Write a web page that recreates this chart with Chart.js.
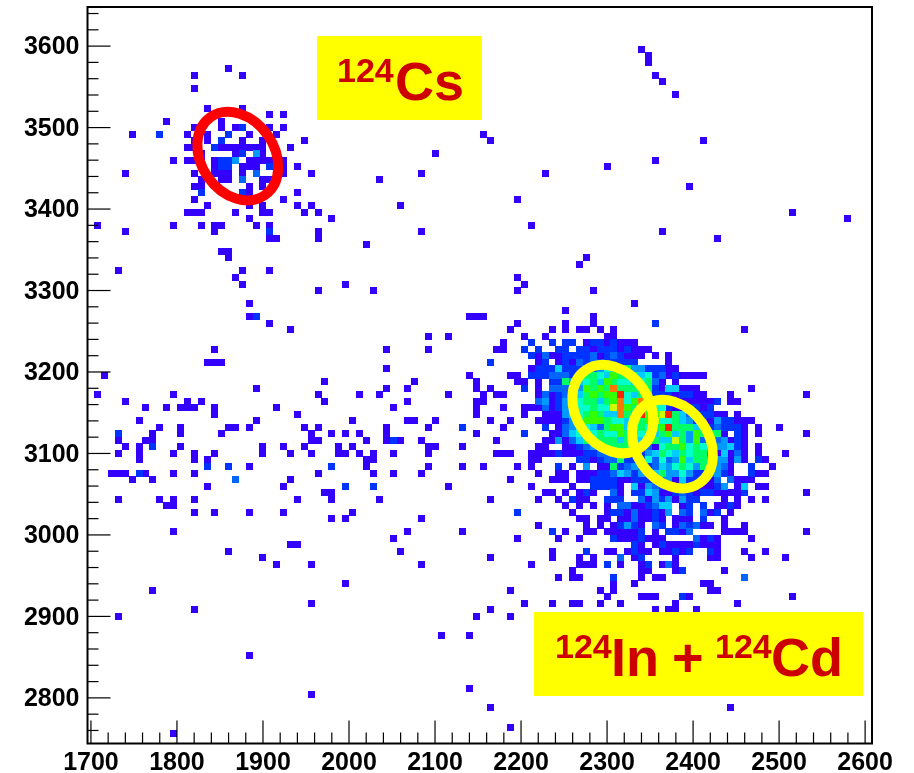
<!DOCTYPE html>
<html>
<head>
<meta charset="utf-8">
<title>124Cs, 124In + 124Cd</title>
<style>
  html, body { margin: 0; padding: 0; background: #fff; }
  #wrap { width: 914px; height: 773px; }
</style>
<script src="https://cdn.jsdelivr.net/npm/chart.js@4"></script>
</head>
<body>
<div id="wrap"><canvas id="plot"></canvas></div>
<script>
// Histogram bins are 8 x 8 wide, values are bin centres
const xMin = 1696, xMax = 2608, yMin = 2744, yMax = 3648;
const tickStep = 20, majorStep = 100;
const font = '"Liberation Sans", Arial, sans-serif';

// colour for each bin count
const levelColors = ['', '#3300ff', '#0033ff', '#0066ff', '#0099ff', '#00ccff', '#00ffcc',
                     '#00ff66', '#33ff00', '#ccff00', '#ff7700', '#ff2200'];

// Bins with one count, outside the dense cluster: one y, with its list of x
const sparseY = [3596, 3588, 3580, 3572, 3564, 3556, 3548, 3540, 3524, 3516, 3508, 3500, 3492, 3484, 3476, 3468,
  3460, 3452, 3444, 3436, 3428, 3420, 3412, 3404, 3396, 3388, 3380, 3372, 3364, 3356, 3348, 3340, 3332, 3324,
  3316, 3308, 3300, 3284, 3276, 3268, 3260, 3252, 3244, 3236, 3228, 3212, 3204, 3196, 3188, 3180, 3172, 3164,
  3156, 3148, 3140, 3132, 3124, 3116, 3108, 3100, 3092, 3084, 3076, 3068, 3060, 3052, 3044, 3036, 3028, 3020,
  3004, 2996, 2988, 2980, 2972, 2964, 2940, 2932, 2916, 2908, 2900, 2876, 2852, 2812, 2804, 2788, 2764, 2756];
const sparseX = [[2340], [2348], [2348], [1860], [1820, 1876, 2356], [2364], [1820], [2380], [1836, 1876], [1908, 1924],
  [1788, 1852], [1820, 1852, 1868, 1908, 1924], [1748, 1812, 1836, 1884, 1916, 2156],
  [1820, 1836, 1876, 1900, 1948, 2164, 2412], [1812, 1820, 1852, 1860, 1868, 1876, 1884, 1892, 1900, 1932],
  [1828, 1868, 1900, 2100], [1796, 1812, 1820, 1828, 1844, 1884, 1892, 1900, 1908, 1916, 1924, 2356],
  [1844, 1876, 1884, 1892, 1916, 1924, 1940, 2300], [1740, 1820, 1844, 1852, 1860, 1876, 1916, 1924, 1956, 2084, 2228],
  [1828, 1852, 1860, 1900, 1908, 2036], [1820, 1828, 1884, 1900, 2396], [1884, 1940], [1820, 1924, 2196],
  [1836, 1884, 1900, 1940, 1956, 2060], [1812, 1820, 1828, 1868, 1900, 1908, 1948, 1964, 2516], [1884, 1980, 2580],
  [1708, 1796, 1828, 1844, 1852, 1892, 1908, 2212], [1740, 1844, 1964, 2084, 2364], [1908, 1916, 1964, 2428], [2020],
  [1852, 1860], [1860, 2276], [2268], [1732, 1876, 1908], [1868, 2196], [1876, 1996, 2204], [1964, 2028, 2196, 2284],
  [1884, 2332], [2252], [1884, 2140, 2148, 2156, 2284], [1908, 2196, 2252, 2284],
  [1932, 2188, 2236, 2252, 2268, 2276, 2292, 2308, 2460], [2092, 2116], [2180], [1844, 2044, 2092, 2172, 2180],
  [1836, 1844, 1852], [2044], [1716, 2140], [1972, 2076, 2148], [1892, 2044, 2068, 2148, 2164],
  [1708, 1796, 1964, 2012, 2036, 2116, 2156, 2172, 2180], [1740, 1812, 1828, 1972, 2068, 2148, 2156],
  [1764, 1788, 1804, 1812, 1820, 1844, 1916, 2052, 2148, 2180], [1844, 1940, 2148],
  [1756, 1892, 2004, 2068, 2076, 2100, 2164], [1780, 1804, 1860, 1868, 1884, 1948, 1964, 2044, 2092, 2180],
  [1772, 1804, 1852, 1956, 1980, 1996, 2012, 2044, 2148],
  [1732, 1764, 1772, 1956, 1964, 2020, 2044, 2060, 2084, 2172],
  [1740, 1756, 1804, 1900, 1924, 1948, 1988, 2004, 2092, 2100, 2132],
  [1732, 1756, 1796, 1820, 1844, 1900, 1932, 1956, 1988, 1996, 2012, 2028, 2052, 2092, 2172, 2180],
  [1756, 1820, 1836, 2020, 2028], [1884, 2020, 2092, 2132, 2156],
  [1724, 1732, 1740, 1764, 1796, 1820, 1964, 2028, 2052, 2084], [1748, 1772, 1932], [1836, 1924, 2116], [1972, 1980],
  [1732, 1780, 1796, 1820, 1940, 1980, 2036, 2164], [1788, 1796], [1820, 1844, 1884, 1924, 2004], [1980, 1996, 2084],
  [1796, 2068, 2132], [2052], [1932, 1940], [1860, 2060], [1900, 2164], [1916, 1956, 2084], [1996], [1772], [1956],
  [1820, 2164], [1732, 2148], [2108, 2140], [1884], [2140], [1956], [2164, 2444], [2188], [1796]];

// The few sparse bins with more than one count
const twoCountX = [1876, 1780, 1860, 1852, 1844, 1876, 1852, 1860, 1852, 1860, 1908, 1828, 1876, 1908, 1892, 2356, 2164,
  2132, 1732, 2052, 1772, 1836, 1860, 1980, 1756, 1996, 2028];
const twoCountY = [3500, 3492, 3492, 3484, 3476, 3468, 3460, 3460, 3452, 3452, 3452, 3420, 3420, 3372, 3268, 3260, 3212,
  3132, 3124, 3116, 3108, 3084, 3084, 3084, 3076, 3060, 3060];
const threeCountX = [1892, 1876, 1868];
const threeCountY = [3444, 3436, 3068];
const fourCountX = [1892, 1868];
const fourCountY = [3468, 3460];

// Dense cluster, one string per row of bins, hex digit = count, '.' = empty
const clusterFirstX = 2188, clusterFirstY = 3244, binSize = 8;
const clusterRows = [
  '..1..1........11',
  '...2..2.22.12212111',
  '..2.2..22.22122212111',
  '...21311222231232111.1.1',
  '....12.121323222222....1',
  '...1222522233465674422211',
  '11.22233324776587775623121111',
  '.11.1.22745675876656731.1',
  '..2.1.333348787a777572155111.......1',
  '....131234578788b657722212211...1..........1',
  '....341245677578a68a73222111112.11',
  '..11131245667669a8787662122212',
  '..1..11145678755a75b889b75312211.1',
  '1...11112468887665678966754221422111',
  '.....2.1345653788567678b77755232221.1..1',
  '..2...11356767668766757857487771.21.1......1',
  '.....114135767775765675597483534121',
  '....11..112346777777316778676444521.1',
  '1..11112111223346752457657677315131.1...1',
  '...11.....2212337223636348577444141.21',
  '.1.1...2.1.4.11723432354676474431..2..1',
  '....1..11.11122354242574464223421..211',
  '1.....111.112222112222341522113.3111',
  '...1.....1..22221.51432224211124.15.11',
  '.....11.1.121..31.22541123212211112........1',
  '....1..1.211..222..314241422...1.1.1.1',
  '........1.1.1.1.33112355.12.2.1121',
  '.2.......1....1221311214.32.312.1',
  '..........11.11.1131121.111.2..1',
  '....1......1.1.12421.32.132311.1..1',
  '......2.1..11.111112.1.2213....1111........1',
  '.1.....1..1....21112111....3121....1',
  '..................21.1211112111',
  '......1....2..11.1211.11212..21...1..1',
  '......1...1.1...3.12....1....11....1....1',
  '...1......111.2.1..12.131',
  '.........1.........11...12.....1',
  '.......1.11....2...1.11...........3',
  '...............1..1.........11',
  '1............1.1.............11',
  '..............1....111...21..............1',
  '..1...1..11..1..1.......1........1',
  '.....................1.11..1',
  '1'
];

// Gates drawn over the histogram
const ringX = [1870.7, 2306.7, 2376];
const ringY = [3465, 3154.5, 3111.5];
const ringColors = ['#ff0000', '#ffff00', '#ffff00'];

// Put all bins in one list per count
const pointsByLevel = levelColors.map(() => []);
sparseY.forEach((y, i) => sparseX[i].forEach(x => pointsByLevel[1].push({ x: x, y: y })));
twoCountX.forEach((x, i) => pointsByLevel[2].push({ x: x, y: twoCountY[i] }));
threeCountX.forEach((x, i) => pointsByLevel[3].push({ x: x, y: threeCountY[i] }));
fourCountX.forEach((x, i) => pointsByLevel[4].push({ x: x, y: fourCountY[i] }));
clusterRows.forEach((row, j) => {
  row.split('').forEach((ch, k) => {
    if (ch === '.') return;
    pointsByLevel[parseInt(ch, 16)].push({ x: clusterFirstX + k * binSize, y: clusterFirstY - j * binSize });
  });
});

// A square bin as point style, so the cells keep hard edges
function binImage(color) {
  const c = document.createElement('canvas');
  c.width = 7;
  c.height = 7;
  const g = c.getContext('2d');
  g.fillStyle = color;
  g.fillRect(0, 0, 7, 7);
  return c;
}

// first dataset is drawn last, so high counts go first
const datasets = [];
for (let level = levelColors.length - 1; level >= 1; level--) {
  datasets.push({
    label: 'count ' + level,
    data: pointsByLevel[level],
    pointStyle: binImage(levelColors[level]),
    pointRadius: 4,
    showLine: false
  });
}

function drawTicks(ctx, chart) {
  const area = chart.chartArea;
  ctx.strokeStyle = '#000';
  ctx.lineWidth = 1.2;
  chart.scales.x.ticks.forEach(t => {
    const px = chart.scales.x.getPixelForValue(t.value);
    const len = t.value % majorStep === 0 ? 23 : 11;
    ctx.beginPath();
    ctx.moveTo(px, area.bottom);
    ctx.lineTo(px, area.bottom - len);
    ctx.stroke();
  });
  chart.scales.y.ticks.forEach(t => {
    const py = chart.scales.y.getPixelForValue(t.value);
    const len = t.value % majorStep === 0 ? 23 : 11;
    ctx.beginPath();
    ctx.moveTo(area.left, py);
    ctx.lineTo(area.left + len, py);
    ctx.stroke();
  });
}

// isotope label: list of [text, x, small]
function drawLabel(ctx, box, parts, baseline) {
  ctx.fillStyle = '#ffff00';
  ctx.fillRect(box[0], box[1], box[2], box[3]);
  ctx.fillStyle = '#cc0000';
  ctx.textAlign = 'left';
  ctx.textBaseline = 'alphabetic';
  parts.forEach(p => {
    ctx.font = 'bold ' + (p[2] ? 34 : 54) + 'px ' + font;
    ctx.fillText(p[0], p[1], p[2] ? baseline - 18 : baseline);
  });
}

const histExtras = {
  id: 'histExtras',
  beforeDatasetsDraw(chart) {
    chart.ctx.imageSmoothingEnabled = false;
  },
  afterDatasetsDraw(chart) {
    const ctx = chart.ctx;
    const area = chart.chartArea;
    ctx.save();
    ringX.forEach((x, i) => {
      ctx.beginPath();
      ctx.ellipse(chart.scales.x.getPixelForValue(x), chart.scales.y.getPixelForValue(ringY[i]),
                  47.5, 36.5, 55 * Math.PI / 180, 0, 2 * Math.PI);
      ctx.strokeStyle = ringColors[i];
      ctx.lineWidth = 10;
      ctx.stroke();
    });
    drawLabel(ctx, [317, 36, 165, 84], [['124', 337, true], ['Cs', 395, false]], 100);
    drawLabel(ctx, [534, 612, 329, 84],
              [['124', 555, true], ['In', 611, false], ['+', 672, false], ['124', 715, true], ['Cd', 771, false]], 676);
    ctx.strokeStyle = '#000';
    ctx.lineWidth = 2;
    ctx.strokeRect(area.left, area.top, area.right - area.left, area.bottom - area.top);
    drawTicks(ctx, chart);
    ctx.restore();
  }
};

function tickText(value) {
  return value % majorStep === 0 ? String(value) : '';
}

// labels may hang past the plot edges, so the axes get no extra padding
function fixAxisBox(s) {
  s.paddingLeft = 0;
  s.paddingRight = 0;
  s.paddingTop = 0;
  s.paddingBottom = 0;
}

new Chart(document.getElementById('plot').getContext('2d'), {
  type: 'scatter',
  data: { datasets: datasets },
  options: {
    responsive: true,
    maintainAspectRatio: false,
    animation: false,
    layout: { padding: { left: 0, right: 42, top: 7, bottom: 0 } },
    plugins: { legend: { display: false }, tooltip: { enabled: false } },
    scales: {
      x: {
        type: 'linear',
        min: xMin,
        max: xMax,
        grid: { display: false },
        border: { display: false },
        afterFit: s => { s.height = 29.5; fixAxisBox(s); },
        ticks: {
          stepSize: tickStep,
          includeBounds: false,
          autoSkip: false,
          maxRotation: 0,
          padding: -3,
          color: '#000',
          font: { family: font, size: 25, weight: 'bold' },
          callback: tickText
        }
      },
      y: {
        type: 'linear',
        min: yMin,
        max: yMax,
        grid: { display: false },
        border: { display: false },
        afterFit: s => { s.width = 87.5; fixAxisBox(s); },
        ticks: {
          stepSize: tickStep,
          includeBounds: false,
          autoSkip: false,
          padding: 0,
          labelOffset: 1.5,
          color: '#000',
          font: { family: font, size: 25, weight: 'bold' },
          callback: tickText
        }
      }
    }
  },
  plugins: [histExtras]
});
</script>
</body>
</html>
